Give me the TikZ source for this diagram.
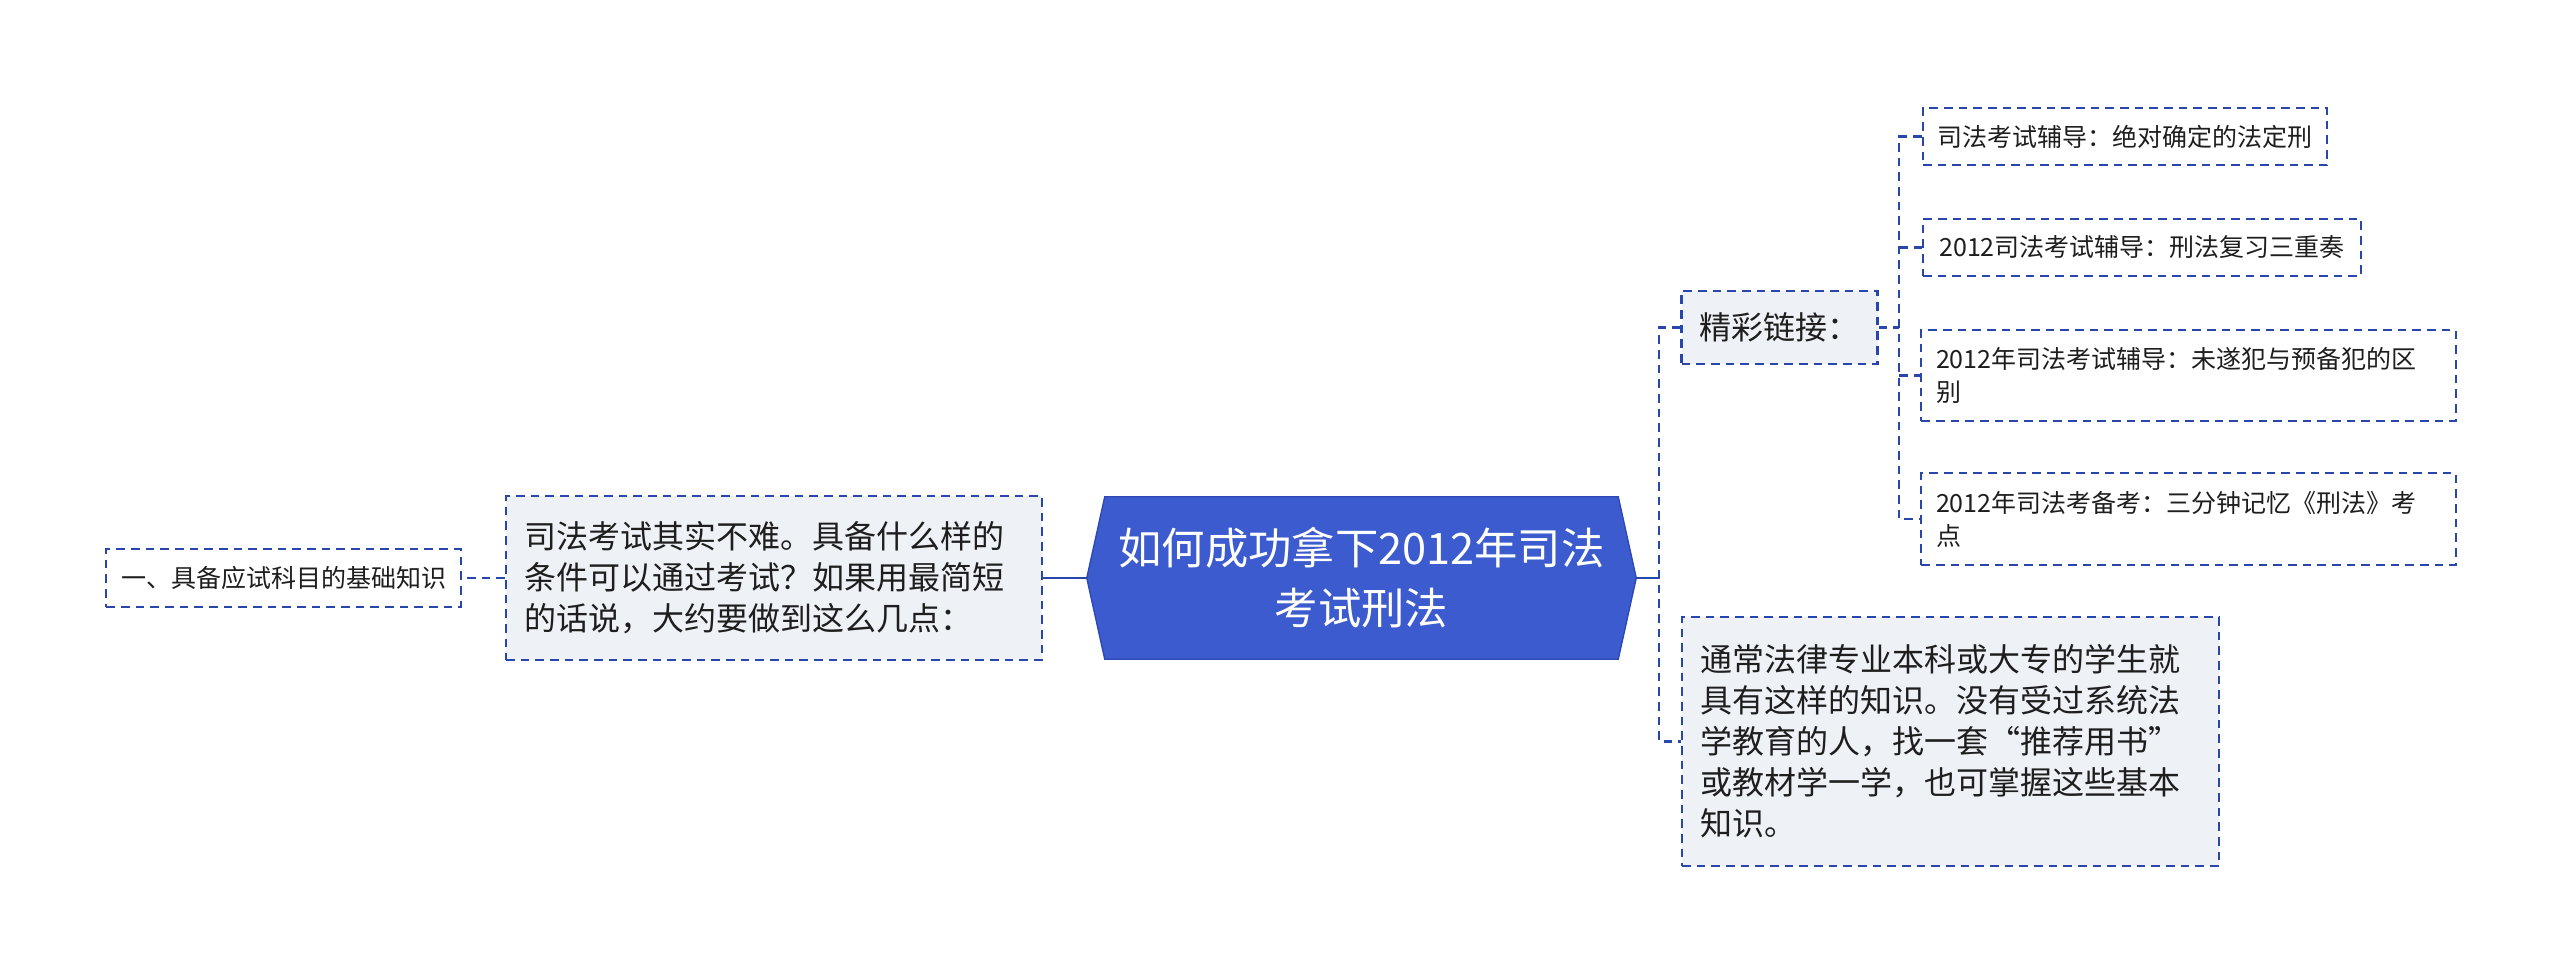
\documentclass[tikz,border=0pt]{standalone}
\usepackage{fontspec}
\setmainfont{Noto Sans CJK SC}
\definecolor{rootfill}{RGB}{60,91,206}
\definecolor{rootborder}{RGB}{45,72,180}
\definecolor{linkblue}{RGB}{40,70,172}
\definecolor{boxfill}{RGB}{238,241,245}
\definecolor{txt}{RGB}{30,30,30}
\tikzset{
  dashline/.style={draw=linkblue, line width=1.7pt, dash pattern=on 6.5pt off 4.5pt},
  solidline/.style={draw=linkblue, line width=2.2pt},
  midbox/.style={dashline, fill=boxfill, text=txt, align=left, inner xsep=13.5pt, inner ysep=0pt,
    font=\fontsize{24pt}{30.75pt}\selectfont},
  leafbox/.style={dashline, fill=white, text=txt, align=left, inner xsep=11pt, inner ysep=0pt,
    font=\fontsize{18.75pt}{24.75pt}\selectfont},
}
\begin{document}
\begin{tikzpicture}[x=0.75pt,y=-0.75pt]
\useasboundingbox (0,0) rectangle (2560,975);
% root
\node[minimum width=549*0.75pt, minimum height=162*0.75pt, inner sep=0pt] (root) at (1361.5,578) {};
\fill[rootfill, draw=rootborder, line width=1pt]
  (root.west) -- ([xshift=18*0.75pt]root.north west) -- ([xshift=-18*0.75pt]root.north east)
  -- (root.east) -- ([xshift=-18*0.75pt]root.south east) -- ([xshift=18*0.75pt]root.south west) -- cycle;
\node[text=white, align=center, font=\fontsize{32.5pt}{45pt}\selectfont] (roottext) at (root.center) {如何成功拿下2012年司法\\考试刑法};
% left side
\node[midbox, minimum width=536*0.75pt, minimum height=164*0.75pt, text width=500*0.75pt] (n2) at (774,578)
  {司法考试其实不难。具备什么样的\\条件可以通过考试？如果用最简短\\的话说，大约要做到这么几点：};
\node[leafbox, minimum width=351*0.75pt, minimum height=58*0.75pt] (n1) at (283.5,578) {一、具备应试科目的基础知识};
% right side
\node[midbox, minimum width=193*0.75pt, minimum height=73*0.75pt, text width=160*0.75pt] (link) at (1779.5,327.5) {精彩链接：};
\node[midbox, minimum width=537*0.75pt, minimum height=249*0.75pt, text width=500*0.75pt] (bottom) at (1950.5,741.5)
  {通常法律专业本科或大专的学生就\\具有这样的知识。没有受过系统法\\学教育的人，找一套“推荐用书”\\或教材学一学，也可掌握这些基本\\知识。};
\node[leafbox, minimum width=404*0.75pt, minimum height=57*0.75pt] (c1) at (2125,136.5) {司法考试辅导：绝对确定的法定刑};
\node[leafbox, minimum width=438*0.75pt, minimum height=57*0.75pt] (c2) at (2142,247.5) {2012司法考试辅导：刑法复习三重奏};
\node[leafbox, minimum width=531*0.75pt, minimum height=91*0.75pt, text width=505*0.75pt] (c3) at (2188.5,375.5) {2012年司法考试辅导：未遂犯与预备犯的区\\别};
\node[leafbox, minimum width=531*0.75pt, minimum height=92*0.75pt, text width=505*0.75pt] (c4) at (2188.5,519) {2012年司法考备考：三分钟记忆《刑法》考\\点};
% connectors
\coordinate (rj) at (1659,578);
\coordinate (lj) at (1899,327.5);
\draw[solidline] (root.west) -- (n2.east);
\draw[dashline] (n2.west) -- (n1.east);
\draw[solidline] (root.east) -- (rj);
\draw[dashline] (link.west) -- (link.west -| rj) -- (bottom.west -| rj) -- (bottom.west);
\draw[dashline] (link.east) -- (lj);
\draw[dashline] (c1.west) -- (c1.west -| lj) -- (c4.west -| lj) -- (c4.west);
\draw[dashline] (c2.west -| lj) -- (c2.west);
\draw[dashline] (c3.west -| lj) -- (c3.west);
\end{tikzpicture}
\end{document}
